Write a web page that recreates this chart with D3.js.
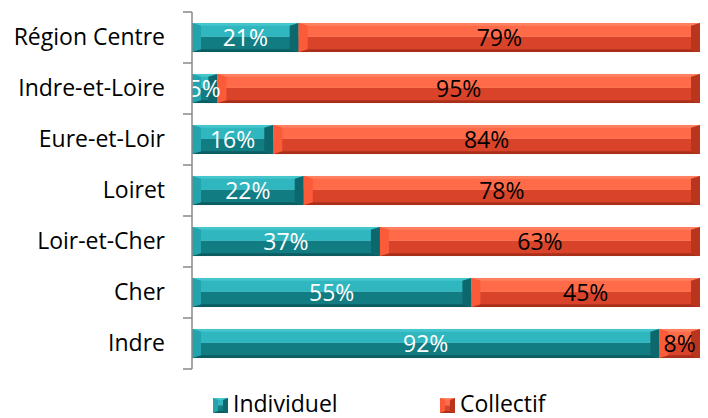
<!DOCTYPE html>
<html><head><meta charset="utf-8">
<script src="https://cdn.jsdelivr.net/npm/d3@7"></script>
<style>body{margin:0;background:#fff;} text{font-family:"Open Sans",sans-serif;}</style>
</head><body><svg id="c" width="708" height="418"></svg>
<script>
const categories = ["Région Centre","Indre-et-Loire","Eure-et-Loir","Loiret","Loir-et-Cher","Cher","Indre"];
const individuel = [21,5,16,22,37,55,92];
const collectif = [79,95,84,78,63,45,8];
const seriesNames = ["Individuel","Collectif"];

const svg = d3.select("#c");
const x = d3.scaleLinear().domain([0,100]).range([192,700]);
const y = d3.scaleBand().domain(categories).range([12,369]).paddingInner(0.43).paddingOuter(0.215);

const pal = {
  Individuel:{light:"#2fb6be", dark:"#127c83", left:"#23a3ab", right:"#0d686e", top:"#45c6cd", bottom:"#0b5d62", text:"#fff"},
  Collectif:{light:"#ff6b49", dark:"#d9432a", left:"#fb5b39", right:"#b9351e", top:"#ff8060", bottom:"#a92f1b", text:"#000"}
};

function bevelBar(g, x0, x1, y0, h, p, bw){
  const b = Math.min(bw||9, (x1-x0)/2), t = Math.max(2, h*0.1);
  const y1 = y0+h, ym = y0 + h*0.48;
  g.append("rect").attr("x",x0).attr("y",y0).attr("width",x1-x0).attr("height",ym-y0).attr("fill",p.light);
  g.append("rect").attr("x",x0).attr("y",ym).attr("width",x1-x0).attr("height",y1-ym).attr("fill",p.dark);
  g.append("polygon").attr("points",[[x0,y0],[x1,y0],[x1-b,y0+t],[x0+b,y0+t]].join(" ")).attr("fill",p.top);
  g.append("polygon").attr("points",[[x0,y1],[x1,y1],[x1-b,y1-t],[x0+b,y1-t]].join(" ")).attr("fill",p.bottom);
  g.append("polygon").attr("points",[[x0,y0],[x0+b,y0+t],[x0+b,y1-t],[x0,y1]].join(" ")).attr("fill",p.left);
  g.append("polygon").attr("points",[[x1,y0],[x1-b,y0+t],[x1-b,y1-t],[x1,y1]].join(" ")).attr("fill",p.right);
}

const rows = categories.map((c,i)=>({cat:c, vals:[individuel[i], collectif[i]]}));
rows.forEach(r=>{
  let acc = 0;
  r.vals.forEach((v,k)=>{
    const name = seriesNames[k];
    bevelBar(svg.append("g"), x(acc), x(acc+v), y(r.cat), y.bandwidth(), pal[name]);
    acc += v;
  });
});
rows.forEach(r=>{
  let acc = 0;
  r.vals.forEach((v,k)=>{
    const name = seriesNames[k];
    svg.append("text").attr("x",(x(acc)+x(acc+v))/2).attr("y",y(r.cat)+y.bandwidth()/2)
      .attr("dy","0.36em").attr("text-anchor","middle").attr("font-size",23)
      .attr("fill",pal[name].text).text(v+"%");
    acc += v;
  });
});

const ax = svg.append("g").attr("transform","translate(192,0)")
  .call(d3.axisLeft(y).tickSize(0).tickPadding(27));
ax.select(".domain").remove();
ax.selectAll("text").attr("font-size",23).attr("fill","#000").attr("font-family","'Open Sans',sans-serif");
const edges = d3.range(categories.length+1).map(i=>12+i*y.step());
svg.append("line").attr("x1",192).attr("x2",192).attr("y1",12).attr("y2",369).attr("stroke","#898989").attr("stroke-width",1.5);
edges.forEach(e=>svg.append("line").attr("x1",183).attr("x2",192).attr("y1",e).attr("y2",e).attr("stroke","#898989").attr("stroke-width",1.5));

const leg = [{n:"Individuel",x:213},{n:"Collectif",x:440}];
leg.forEach(l=>{
  bevelBar(svg.append("g"), l.x, l.x+15, 398, 15, pal[l.n], 5);
  svg.append("text").attr("x",l.x+20).attr("y",412).attr("font-size",23).attr("fill","#000").text(l.n);
});
</script></body></html>
